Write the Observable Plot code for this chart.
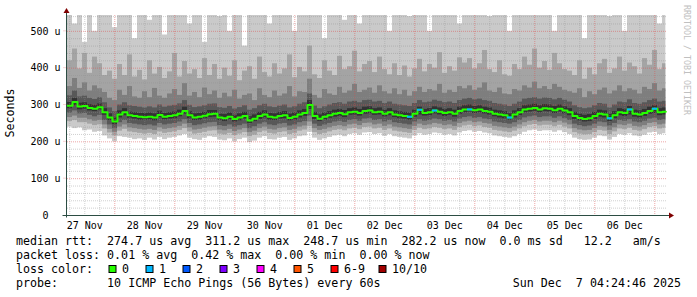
<!DOCTYPE html>
<html><head><meta charset="utf-8">
<script src="https://cdn.jsdelivr.net/npm/d3@7"></script>
<script src="https://cdn.jsdelivr.net/npm/@observablehq/plot@0.6"></script>
<style>
html,body{margin:0;padding:0;background:#fff;}
#wrap{position:relative;width:697px;height:297px;overflow:hidden;background:#fff;}
#wrap svg{display:block;}
</style></head><body><div id="wrap"></div>
<script>
// ---------- data ----------
const T_START = "2025-11-27T05:05:00Z";
const T_END   = "2025-12-07T05:05:00Z";
const T_LAST  = "2025-12-07T04:25:00Z";
const STEP_HOURS = 2;
const dayLabels = ["27 Nov","28 Nov","29 Nov","30 Nov","01 Dec","02 Dec","03 Dec","04 Dec","05 Dec","06 Dec"];
const yTicks = [0,100,200,300,400,500];
const yTickLabels = ["0\u00a0\u00a0","100 u","200 u","300 u","400 u","500 u"];
const Y_MAX = 543;

// median rtt (us) per 2h step
const median = [298,308,296,297,292,290,294,280,266,255,
 274,280,272,270,268,267,268,266,273,268,
 270,272,276,284,272,266,268,271,275,276,
 266,264,268,262,266,270,258,263,270,274,
 268,266,270,272,265,268,274,278,300,270,
 263,268,272,276,278,275,280,282,278,284,
 285,280,282,276,280,274,272,270,268,276,
 287,278,280,285,282,278,280,276,284,288,
 288,286,288,284,282,276,274,272,266,274,
 280,288,290,292,288,291,290,286,290,285,
 280,270,265,262,264,270,276,274,264,272,
 280,278,288,276,274,278,284,290,280,282];
// lost pings per step
const loss = [0,0,0,0,0,0,0,0,0,0, 0,0,0,0,0,0,0,0,0,0, 0,0,0,0,0,0,0,0,0,0,
 0,0,0,0,0,0,0,0,0,0, 0,0,0,0,0,0,0,0,0,0, 0,0,0,0,0,0,0,0,0,0,
 0,0,0,0,0,0,0,0,1,0, 1,0,0,1,0,0,0,0,0,0, 1,0,0,0,0,0,0,0,1,0,
 0,0,0,0,0,0,0,0,0,0, 0,0,0,0,0,0,0,0,1,0, 0,0,1,0,0,0,0,1,0,0];
// sorted pings (us) per step: ping1 = fastest ... ping10 = slowest
const ping1 = [240,236,238,230,232,226,228,216,208,200,
 214,212,210,206,208,204,210,205,212,206,
 210,212,216,220,210,206,204,210,214,212,
 205,203,208,200,206,210,198,202,210,214,
 206,205,210,212,204,208,214,216,226,210,
 204,208,212,216,218,214,220,222,218,224,
 225,220,222,215,220,214,212,210,208,216,
 222,218,220,224,222,218,220,216,224,228,
 230,226,228,224,222,216,214,212,210,214,
 220,226,230,232,228,230,230,226,230,225,
 220,210,206,204,205,210,216,214,205,212,
 220,218,222,216,214,218,224,226,220,222];
const ping2 = [255,258,252,252,248,244,246,235,224,216,
 229,234,227,225,223,221,223,220,227,223,
 225,227,231,236,227,221,223,226,229,230,
 221,219,223,217,221,225,214,218,225,229,
 223,221,225,227,220,223,229,232,242,225,
 220,223,227,231,233,230,235,237,233,239,
 240,235,237,231,235,229,227,225,223,231,
 237,233,235,239,237,233,235,231,239,243,
 245,241,243,239,237,231,229,227,225,229,
 235,241,245,247,243,245,245,241,245,240,
 235,225,221,219,220,225,231,229,220,227,
 235,233,237,231,229,233,239,241,235,237];
const ping3 = [266,270,264,264,260,256,258,246,234,226,
 240,246,238,236,234,232,234,231,238,234,
 236,238,242,248,238,232,234,237,240,241,
 232,230,234,228,232,236,225,229,236,240,
 234,232,236,238,231,234,240,243,254,236,
 231,234,238,242,244,241,246,248,244,250,
 251,246,248,242,246,240,238,236,234,242,
 248,244,246,250,248,244,246,242,250,254,
 256,252,254,250,248,242,240,238,236,240,
 246,252,256,258,254,256,256,252,256,251,
 246,236,232,230,231,236,242,240,231,238,
 246,244,248,242,240,244,250,252,246,248];
const ping4 = [278,284,276,277,272,268,272,258,246,236,
 252,258,250,248,246,244,246,243,250,246,
 248,250,254,260,250,244,246,249,252,253,
 244,242,246,240,244,248,236,241,248,252,
 246,244,248,250,243,246,252,255,270,248,
 242,246,250,254,256,253,258,260,256,262,
 263,258,260,254,258,252,250,248,246,254,
 260,256,258,262,260,256,258,254,262,266,
 268,264,266,262,260,254,252,250,248,252,
 258,265,268,270,266,268,268,264,268,263,
 258,248,244,241,243,248,254,252,243,250,
 258,256,260,254,252,256,262,264,258,260];
const ping5 = [290,298,287,289,284,282,286,272,258,247,
 265,271,264,262,259,259,260,257,265,260,
 262,263,268,275,263,258,259,263,266,267,
 258,255,260,254,257,262,250,255,261,265,
 259,258,262,263,257,259,265,269,288,261,
 255,259,264,267,269,266,272,273,270,275,
 276,272,273,268,271,266,263,262,259,267,
 273,270,271,276,273,269,272,267,275,279,
 281,277,279,276,273,268,265,263,259,265,
 271,279,281,283,279,282,281,277,281,276,
 271,261,257,254,255,261,267,265,255,263,
 271,269,273,267,265,269,275,277,271,273];
const ping6 = [307,318,305,306,301,299,303,290,276,265,
 284,290,281,279,277,277,278,276,283,277,
 279,281,286,294,282,276,277,280,285,285,
 275,274,278,271,276,280,268,273,280,284,
 277,276,280,282,275,278,284,288,312,280,
 273,278,282,286,288,285,290,292,288,294,
 295,290,292,286,290,284,282,280,278,286,
 294,288,290,295,292,288,290,286,294,298,
 300,296,298,294,292,286,284,282,276,284,
 290,298,300,302,298,301,300,296,300,295,
 290,280,275,272,274,280,286,284,275,282,
 290,288,296,286,284,288,294,298,290,292];
const ping7 = [325,338,322,324,318,315,320,306,292,282,
 300,306,298,296,294,292,295,292,300,294,
 297,299,303,312,299,293,295,298,302,303,
 293,291,296,289,293,298,286,290,298,302,
 295,293,297,300,292,295,302,306,330,297,
 290,295,300,304,306,302,308,310,306,312,
 313,308,310,304,308,302,300,298,296,304,
 312,306,308,313,310,306,308,304,312,316,
 318,314,316,312,310,304,302,300,296,302,
 308,316,318,320,316,319,318,314,318,313,
 308,298,293,290,292,298,304,302,292,300,
 308,306,314,304,302,306,312,316,308,310];
const ping8 = [350,372,345,360,338,352,344,334,318,312,
 340,326,350,322,318,336,320,345,324,318,
 330,342,326,358,324,334,320,346,328,338,
 318,332,322,340,316,326,330,312,344,326,
 320,338,324,330,350,322,336,334,370,326,
 318,342,330,326,348,332,338,356,334,340,
 346,332,352,336,330,344,328,340,324,336,
 348,334,342,338,356,332,340,334,350,344,
 352,340,346,360,338,334,346,330,328,342,
 338,352,346,362,344,350,342,356,348,340,
 336,332,344,320,336,328,340,346,330,338,
 352,336,344,340,330,348,342,358,338,344];
const ping9 = [420,452,398,440,386,430,412,380,392,370,
 410,380,436,376,394,368,420,384,402,372,
 390,440,376,418,384,396,372,426,380,410,
 370,400,378,420,366,392,404,370,430,388,
 376,412,384,398,436,374,402,390,460,382,
 372,420,392,380,432,396,404,446,390,410,
 418,388,430,396,382,412,380,406,376,398,
 424,390,410,400,442,386,404,392,428,414,
 426,398,412,448,396,388,420,382,378,410,
 396,430,408,452,400,418,394,440,412,396,
 392,380,420,370,400,382,412,424,386,398,
 430,392,414,404,384,426,408,448,396,412];
const ping10 = [600,520,580,470,610,500,560,640,590,510,
 620,560,600,480,590,620,530,600,580,490,
 600,640,560,610,520,590,600,470,580,620,
 540,600,500,580,610,460,590,560,620,600,
 520,590,610,580,640,500,600,560,650,590,
 560,480,600,620,580,530,600,610,520,590,
 620,560,600,590,500,610,580,620,540,600,
 610,580,500,620,600,590,560,610,520,600,
 620,590,600,640,540,600,580,610,500,590,
 600,620,560,640,600,580,610,500,600,620,
 590,560,600,480,610,580,600,620,540,590,
 620,500,600,580,610,560,600,640,520,600];

const lossLabels = ["0","1","2","3","4","5","6-9","10/10"];
const lossColors = ["#26ff00","#00b8ff","#0059ff","#7e00ff","#ff00ff","#ff5500","#ff0000","#a10000"];
const smokeColors = ["#cacaca","#a4a4a4","#7e7e7e","#585858","#323232"];
const legendRtt   = "median rtt:  274.7 us avg  311.2 us max  248.7 us min  282.2 us now  0.0 ms sd   12.2   am/s";
const legendLoss  = "packet loss: 0.01 % avg  0.42 % max  0.00 % min  0.00 % now";
const legendColor = "loss color:";
const legendProbe = "probe:       10 ICMP Echo Pings (56 Bytes) every 60s";
const legendDate  = "Sun Dec  7 04:24:46 2025";
const yLabel = "Seconds";
const watermark = "RRDTOOL / TOBI OETIKER";

// ---------- build ----------
const W = 697, H = 234, ML = 67, MR = 30, MT = 15, MB = 19;
const start = new Date(T_START), end = new Date(T_END), last = new Date(T_LAST);
const pings = [ping1,ping2,ping3,ping4,ping5,ping6,ping7,ping8,ping9,ping10];
const lossCat = n => n <= 5 ? n : (n < 10 ? 6 : 7);
const steps = median.map((m, i) => {
  const t0 = d3.utcHour.offset(start, i * STEP_HOURS);
  const tn = d3.utcHour.offset(start, (i + 1) * STEP_HOURS);
  return {i, t0, t1: tn > last ? last : tn, median: m, cat: lossCat(loss[i])};
});
const bands = smokeColors.map((c, b) => steps.map((s, i) => ({
  t0: s.t0, t1: s.t1, lo: pings[b][i], hi: Math.min(pings[9 - b][i], Y_MAX)
})));
const medLine = steps.map(s => ({t: s.t0, v: s.median}));
medLine.push({t: last, v: median[median.length - 1]});

const noonTicks = d3.utcDay.range(d3.utcDay.floor(start), end)
  .map(d => d3.utcHour.offset(d, 12)).filter(d => d >= start && d <= end);
const firstNoon = noonTicks[0];
const xFmt = d => dayLabels[Math.round((d - firstNoon) / 864e5)] ?? "";
const yFmt = d => yTickLabels[yTicks.indexOf(d)] ?? "";

const minorX = d3.utcHour.every(6).range(start, end).filter(d => d.getUTCHours() !== 0);
const majorX = d3.utcDay.range(start, end);
const minorY = d3.range(20, Y_MAX, 20).filter(v => v % 100 !== 0);
const majorY = yTicks.filter(v => v > 0);
const minorC = "rgba(143,143,143,0.42)", majorC = "rgba(222,80,80,0.5)";

const marks = [];
bands.forEach((rows, b) => marks.push(Plot.rect(rows, {x1: "t0", x2: "t1", y1: "lo", y2: "hi", fill: smokeColors[b], clip: true})));
marks.push(Plot.ruleX(minorX, {stroke: minorC, strokeDasharray: "1,1"}));
marks.push(Plot.ruleY(minorY, {stroke: minorC, strokeDasharray: "1,1"}));
marks.push(Plot.ruleX(majorX, {stroke: majorC, strokeDasharray: "1,1"}));
marks.push(Plot.ruleY(majorY, {stroke: majorC, strokeDasharray: "1,1"}));
marks.push(Plot.line(medLine, {x: "t", y: "v", curve: "step-after", stroke: lossColors[0], strokeWidth: 2}));
for (let c = 1; c < lossColors.length; c++) {
  const rows = steps.filter(s => s.cat === c);
  if (rows.length) marks.push(Plot.ruleY(rows, {x1: "t0", x2: "t1", y: "median", stroke: lossColors[c], strokeWidth: 2}));
}

const chart = Plot.plot({
  width: W, height: H, marginLeft: ML, marginRight: MR, marginTop: MT, marginBottom: MB,
  style: {fontFamily: "'DejaVu Sans Mono', monospace", fontSize: "10px", color: "#000", background: "#fff", overflow: "visible"},
  x: {type: "utc", domain: [start, end], ticks: noonTicks, tickFormat: xFmt, tickSize: 0, tickPadding: 6, label: null},
  y: {domain: [0, Y_MAX], ticks: yTicks, tickFormat: yFmt, tickSize: 0, tickPadding: 7, label: null},
  marks
});
const wrap = d3.select("#wrap");
wrap.node().appendChild(chart);

// axes, arrows and legend overlay (positions derived from the plot frame)
const ov = wrap.append("svg").attr("width", W).attr("height", 297)
  .style("position", "absolute").style("left", 0).style("top", 0)
  .style("font-family", "'DejaVu Sans Mono', monospace");
const x0 = ML - 0.5, yb = H - MB + 0.5, xr = W - MR;
const axisC = "#2c4d43", arrowC = "#7f0000";
majorY.forEach(v => {
  const yy = MT + (H - MT - MB) * (1 - v / Y_MAX);
  ov.append("line").attr("x1", x0 - 3).attr("x2", x0).attr("y1", yy).attr("y2", yy)
    .attr("stroke", majorC).attr("stroke-dasharray", "1,1");
});
ov.append("line").attr("x1", x0).attr("x2", x0).attr("y1", yb + 2).attr("y2", MT - 5).attr("stroke", axisC);
ov.append("line").attr("x1", x0 - 4).attr("x2", xr + 3).attr("y1", yb).attr("y2", yb).attr("stroke", axisC);
ov.append("path").attr("d", `M${x0 - 3},${MT - 2}L${x0 + 3},${MT - 2}L${x0},${MT - 7}Z`).attr("fill", arrowC);
ov.append("path").attr("d", `M${xr + 2},${yb - 3}L${xr + 2},${yb + 3}L${xr + 7},${yb}Z`).attr("fill", arrowC);

ov.append("text").attr("transform", `translate(14,${(MT + H - MB) / 2 - 2}) rotate(-90)`)
  .attr("text-anchor", "middle").attr("font-size", "11.65px").attr("fill", "#000").text(yLabel);
ov.append("text").attr("transform", `translate(684,5) rotate(90)`)
  .attr("font-size", "8.3px").attr("fill", "#c0c0c0").text(watermark);

const LX = 16, FS = "11.65px";
const lines = [[legendRtt, 244.5], [legendLoss, 258.5], [legendColor, 272.5], [legendProbe, 286.5]];
lines.forEach(([s, y]) => ov.append("text").attr("x", LX).attr("y", y).attr("font-size", FS)
  .attr("fill", "#000").attr("xml:space", "preserve").style("white-space", "pre").text(s));
ov.append("text").attr("x", 681).attr("y", 286.5).attr("font-size", FS).attr("text-anchor", "end")
  .attr("fill", "#000").attr("xml:space", "preserve").style("white-space", "pre").text(legendDate);
let bx = 108.5;
lossLabels.forEach((lab, i) => {
  ov.append("rect").attr("x", bx + 0.5).attr("y", 265.5).attr("width", 7).attr("height", 7)
    .attr("fill", lossColors[i]).attr("stroke", "#000").attr("stroke-width", 1);
  ov.append("text").attr("x", bx + 13.5).attr("y", 272.5).attr("font-size", FS).attr("fill", "#000").text(lab);
  bx += 37 + 5.5 * (lab.length - 1);
});
</script></body></html>
